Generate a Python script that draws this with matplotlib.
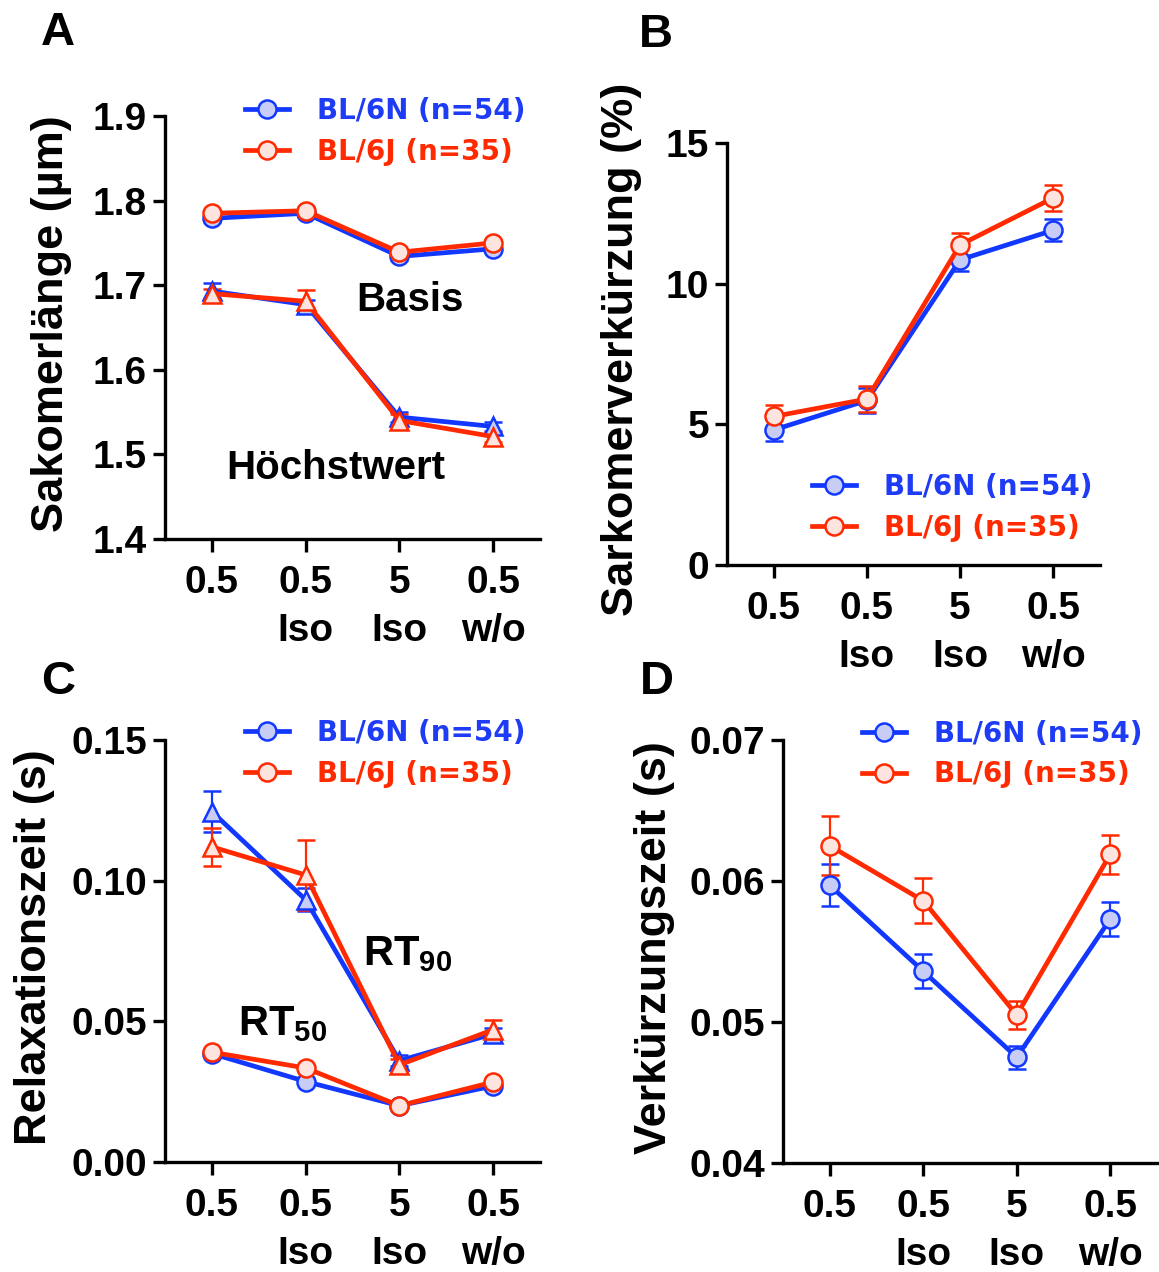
import matplotlib
matplotlib.use("Agg")
import matplotlib.pyplot as plt
from matplotlib.lines import Line2D

plt.rcParams["font.family"] = ["Liberation Sans", "DejaVu Sans"]
plt.rcParams["font.weight"] = "bold"
plt.rcParams["mathtext.fontset"] = "custom"
plt.rcParams["mathtext.rm"] = "Liberation Sans:bold"
plt.rcParams["mathtext.bf"] = "Liberation Sans:bold"

# categories on x
x_labels = ["0.5", "0.5\nIso", "5\nIso", "0.5\nw/o"]
x = [0, 1, 2, 3]

strain_n = "BL/6N (n=54)"
strain_j = "BL/6J (n=35)"

# A: sarcomere length (um)
a_basis_n = [1.779, 1.785, 1.734, 1.743]
a_basis_n_err = [0.004, 0.004, 0.004, 0.004]
a_basis_j = [1.785, 1.788, 1.739, 1.750]
a_basis_j_err = [0.004, 0.004, 0.004, 0.004]
a_peak_n = [1.693, 1.677, 1.544, 1.533]
a_peak_n_err = [0.009, 0.006, 0.006, 0.005]
a_peak_j = [1.690, 1.681, 1.540, 1.521]
a_peak_j_err = [0.006, 0.013, 0.008, 0.006]

# B: sarcomere shortening (%)
b_n = [4.80, 5.85, 10.85, 11.90]
b_n_err = [0.40, 0.45, 0.40, 0.40]
b_j = [5.28, 5.90, 11.38, 13.05]
b_j_err = [0.42, 0.46, 0.43, 0.46]

# C: relaxation time (s)
c_rt90_n = [0.1245, 0.0932, 0.0360, 0.0455]
c_rt90_n_err = [0.0072, 0.0040, 0.0020, 0.0020]
c_rt90_j = [0.1120, 0.1020, 0.0345, 0.0470]
c_rt90_j_err = [0.0068, 0.0125, 0.0020, 0.0035]
c_rt50_n = [0.0385, 0.0286, 0.0200, 0.0270]
c_rt50_n_err = [0.0010, 0.0010, 0.0008, 0.0010]
c_rt50_j = [0.0390, 0.0334, 0.0200, 0.0284]
c_rt50_j_err = [0.0010, 0.0012, 0.0008, 0.0010]

# D: shortening time (s)
d_n = [0.0597, 0.0536, 0.0475, 0.0573]
d_n_err = [0.0015, 0.0012, 0.0008, 0.0012]
d_j = [0.0625, 0.0586, 0.0505, 0.0619]
d_j_err = [0.0021, 0.0016, 0.0010, 0.0014]

blue = "#1238ff"
blue_face = "#c8cdf6"
red = "#ff2a00"
red_face = "#fde4df"
blue_text = "#1e3cf5"
red_text = "#ff2a00"

fig = plt.figure(figsize=(11.59, 12.72), dpi=100)
axA = fig.add_axes([0.1424, 0.5763, 0.3235, 0.3325])
axB = fig.add_axes([0.6273, 0.5558, 0.3218, 0.3318])
axC = fig.add_axes([0.1424, 0.0865, 0.3235, 0.3318])
axD = fig.add_axes([0.6756, 0.0857, 0.3227, 0.3325])


def series(ax, y, err, color, face, marker="o"):
    ax.errorbar(x, y, yerr=err, fmt="-", marker=marker, color=color,
                lw=3.4, ms=13, mfc=face, mec=color, mew=1.8,
                ecolor=color, elinewidth=1.6, capsize=6.5, capthick=1.6)


def style(ax, ylim, yticks, yticklabels, ylabel, labx):
    ax.set_xlim(-0.5, 3.5)
    ax.set_ylim(*ylim)
    ax.set_xticks(x)
    ax.set_xticklabels(x_labels, fontsize=28, fontweight="bold", linespacing=1.4)
    ax.set_yticks(yticks)
    ax.set_yticklabels(yticklabels, fontsize=28, fontweight="bold")
    for s in ["top", "right"]:
        ax.spines[s].set_visible(False)
    for s in ["left", "bottom"]:
        ax.spines[s].set_linewidth(2.4)
    ax.tick_params(axis="both", length=9, width=2.4, direction="out")
    ax.tick_params(axis="x", pad=10)
    ax.tick_params(axis="y", pad=4)
    ax.set_ylabel(ylabel, fontsize=32.5, fontweight="bold")
    ax.yaxis.set_label_coords(labx, 0.51)


def legend(ax, anchor):
    handles = [
        Line2D([], [], color=blue, lw=3.4, marker="o", ms=13, mfc=blue_face, mec=blue, mew=1.8),
        Line2D([], [], color=red, lw=3.4, marker="o", ms=13, mfc=red_face, mec=red, mew=1.8),
    ]
    lg = ax.legend(handles, [strain_n, strain_j], loc="upper left", bbox_to_anchor=anchor,
                   bbox_transform=fig.transFigure, frameon=False,
                   prop={"family": "DejaVu Sans", "size": 20, "weight": "bold"},
                   handlelength=1.6, handletextpad=1.0, labelspacing=0.45,
                   borderpad=0, borderaxespad=0)
    lg.get_texts()[0].set_color(blue_text)
    lg.get_texts()[1].set_color(red_text)


# A
series(axA, a_basis_n, a_basis_n_err, blue, blue_face)
series(axA, a_basis_j, a_basis_j_err, red, red_face)
series(axA, a_peak_n, a_peak_n_err, blue, blue_face, "^")
series(axA, a_peak_j, a_peak_j_err, red, red_face, "^")
style(axA, (1.4, 1.9), [1.4, 1.5, 1.6, 1.7, 1.8, 1.9],
      ["1.4", "1.5", "1.6", "1.7", "1.8", "1.9"], "Sakomerlänge (µm)", -0.248)
axA.text(0.653, 0.539, "Basis", transform=axA.transAxes, fontsize=29,
         fontweight="bold", ha="center", va="baseline")
axA.text(0.456, 0.142, "Höchstwert", transform=axA.transAxes, fontsize=29,
         fontweight="bold", ha="center", va="baseline")
legend(axA, (245 / 1159, 1 - 97 / 1272))

# B
series(axB, b_n, b_n_err, blue, blue_face)
series(axB, b_j, b_j_err, red, red_face)
style(axB, (0, 15), [0, 5, 10, 15], ["0", "5", "10", "15"],
      "Sarkomerverkürzung (%)", -0.228)
legend(axB, (812 / 1159, 1 - 473 / 1272))

# C
series(axC, c_rt90_n, c_rt90_n_err, blue, blue_face, "^")
series(axC, c_rt90_j, c_rt90_j_err, red, red_face, "^")
series(axC, c_rt50_n, c_rt50_n_err, blue, blue_face)
series(axC, c_rt50_j, c_rt50_j_err, red, red_face)
style(axC, (0, 0.15), [0, 0.05, 0.10, 0.15], ["0.00", "0.05", "0.10", "0.15"],
      "Relaxationszeit (s)", -0.293)
axC.text(0.528, 0.467, r"RT$_{90}$", transform=axC.transAxes, fontsize=30,
         fontweight="bold", ha="left", va="baseline")
axC.text(0.195, 0.301, r"RT$_{50}$", transform=axC.transAxes, fontsize=30,
         fontweight="bold", ha="left", va="baseline")
legend(axC, (245 / 1159, 1 - 719 / 1272))

# D
series(axD, d_n, d_n_err, blue, blue_face)
series(axD, d_j, d_j_err, red, red_face)
style(axD, (0.04, 0.07), [0.04, 0.05, 0.06, 0.07], ["0.04", "0.05", "0.06", "0.07"],
      "Verkürzungszeit (s)", -0.289)
legend(axD, (862 / 1159, 1 - 720 / 1272))

# panel letters
for lab, px, py in [("A", 58, 33), ("B", 656, 35), ("C", 58, 682), ("D", 657, 682)]:
    fig.text(px / 1159, 1 - py / 1272, lab, fontsize=34, fontweight="bold",
             ha="center", va="center")

fig.savefig("out.png", dpi=100)
